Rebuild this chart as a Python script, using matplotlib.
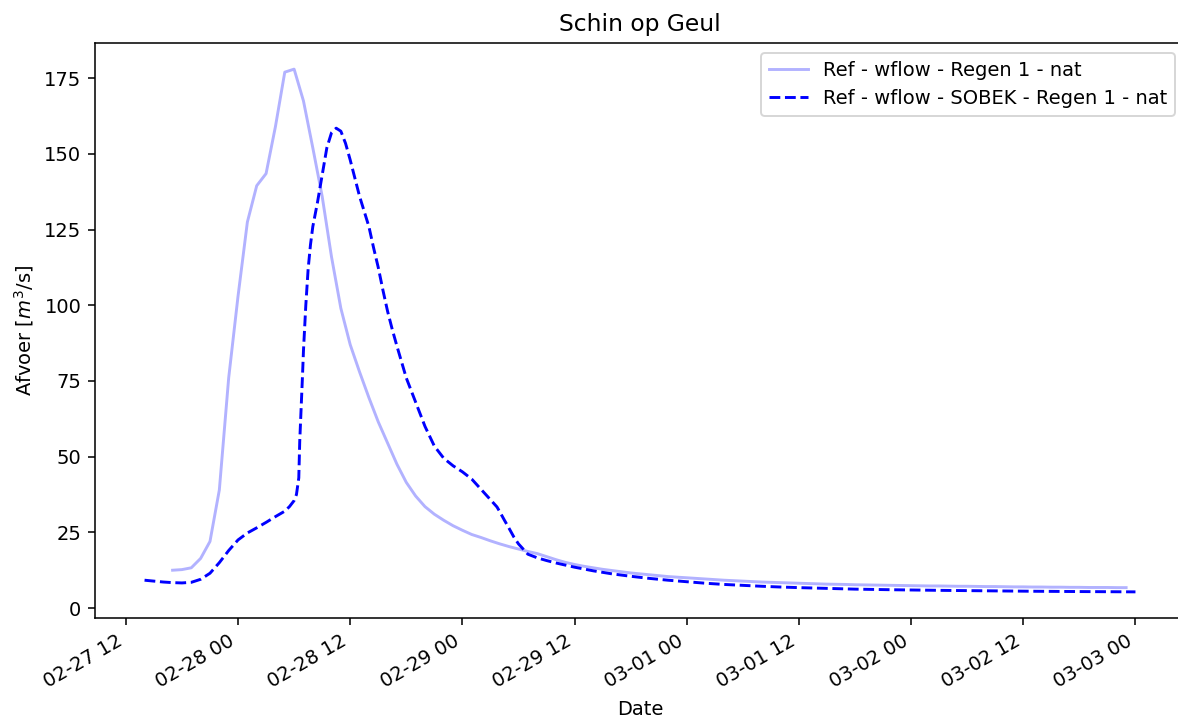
import matplotlib
matplotlib.use("Agg")
import matplotlib.pyplot as plt
import matplotlib.dates as mdates
import numpy as np
import pandas as pd

# wflow reference run: hourly discharge starting 2020-02-27 17:00
wflow_start = "2020-02-27 17:00"
wflow_q = [
    12.5, 12.7, 13.3, 16.4, 22.0, 39.0, 76.0, 103.0, 127.5, 139.5,
    143.5, 159.0, 177.0, 178.0, 167.5, 152.0, 136.0, 116.0, 99.0, 87.0,
    78.0, 69.5, 61.5, 54.5, 47.5, 41.5, 37.0, 33.5, 31.0, 29.0,
    27.2, 25.7, 24.3, 23.3, 22.2, 21.2, 20.3, 19.5, 18.7, 18.0,
    17.0, 16.0, 15.1, 14.4, 13.8, 13.3, 12.8, 12.4, 12.0, 11.6,
    11.3, 11.0, 10.7, 10.4, 10.2, 10.0, 9.8, 9.6, 9.4, 9.2,
    9.05, 8.9, 8.75, 8.6, 8.5, 8.4, 8.3, 8.2, 8.1, 8.0,
    7.9, 7.85, 7.8, 7.7, 7.65, 7.6, 7.55, 7.5, 7.45, 7.4,
    7.35, 7.3, 7.3, 7.25, 7.2, 7.2, 7.15, 7.1, 7.1, 7.05,
    7.0, 7.0, 6.95, 6.95, 6.9, 6.9, 6.85, 6.85, 6.8, 6.8,
    6.8, 6.75, 6.75,
]

# wflow + SOBEK routing: discharge at hour offsets from 2020-02-28 00:00
sobek_base = "2020-02-28 00:00"
sobek_hours = [
    -10, -9, -8, -7, -6, -5, -4, -3, -2, -1,
    0, 1, 2, 3, 4, 5, 5.5, 6, 6.25, 6.5,
    6.6, 6.75, 6.9, 7.0, 7.25, 7.5, 7.75, 8.0, 8.5, 9.0,
    9.5, 10.0, 10.5, 11.0, 11.5, 12.0, 12.5, 13.0, 13.5, 14.0,
    14.5, 15.0, 15.5, 16.0, 16.5, 17.0, 18, 19, 20, 21,
    22, 23, 24, 25, 26, 27, 27.7, 28, 28.5, 29,
    29.5, 30, 30.5, 31, 32, 33, 34, 35, 36, 37,
    38, 39, 40, 42, 44, 46, 48, 50, 52, 54,
    56, 58, 60, 63, 66, 70, 75, 80, 85, 90, 96,
]
sobek_q = [
    9.2, 8.9, 8.6, 8.4, 8.3, 8.5, 9.5, 11.5, 15.0, 19.0,
    22.5, 24.8, 26.5, 28.3, 30.2, 32.0, 33.5, 35.5, 37.5, 43.0,
    55.0, 66.0, 77.0, 85.0, 100.0, 112.0, 120.0, 126.0, 134.0, 143.0,
    152.0, 157.0, 158.5, 157.5, 153.5, 148.0, 142.0, 136.0, 131.0, 126.0,
    119.0, 112.5, 105.0, 98.0, 92.0, 86.5, 76.0, 68.0, 60.0, 53.5,
    49.5, 47.0, 45.0, 42.6, 39.2, 35.8, 33.4, 31.8, 29.0, 26.3,
    23.5, 21.2, 19.5, 17.8, 16.6, 15.7, 14.9, 14.2, 13.5, 12.9,
    12.3, 11.8, 11.3, 10.5, 9.8, 9.2, 8.7, 8.2, 7.8, 7.5,
    7.2, 6.95, 6.75, 6.5, 6.25, 6.05, 5.85, 5.7, 5.55, 5.45, 5.35,
]

wflow_t = pd.date_range(wflow_start, periods=len(wflow_q), freq="h")
sobek_t = pd.Timestamp(sobek_base) + pd.to_timedelta(np.array(sobek_hours), unit="h")

DPI = 140
fig = plt.figure(figsize=(1178 / DPI, 718 / DPI), dpi=DPI)
ax = fig.add_axes([95 / 1178, 1 - 618 / 718, (1185 - 95) / 1178, (618 - 43) / 718])

ax.plot(wflow_t, wflow_q, color="blue", alpha=0.3, linewidth=1.5,
        label="Ref - wflow - Regen 1 - nat")
ax.plot(sobek_t, sobek_q, color="blue", linestyle="--", linewidth=1.5,
        label="Ref - wflow - SOBEK - Regen 1 - nat")

ax.xaxis.set_major_locator(mdates.HourLocator(byhour=[0, 12]))
ax.xaxis.set_major_formatter(mdates.DateFormatter("%m-%d %H"))
for lbl in ax.get_xticklabels():
    lbl.set_rotation(30)
    lbl.set_ha("right")

ax.set_title("Schin op Geul")
ax.set_xlabel("Date")
ax.set_ylabel("Afvoer [$m^3$/s]")
ax.legend(loc="upper right")

fig.savefig("out.png", dpi=DPI)
